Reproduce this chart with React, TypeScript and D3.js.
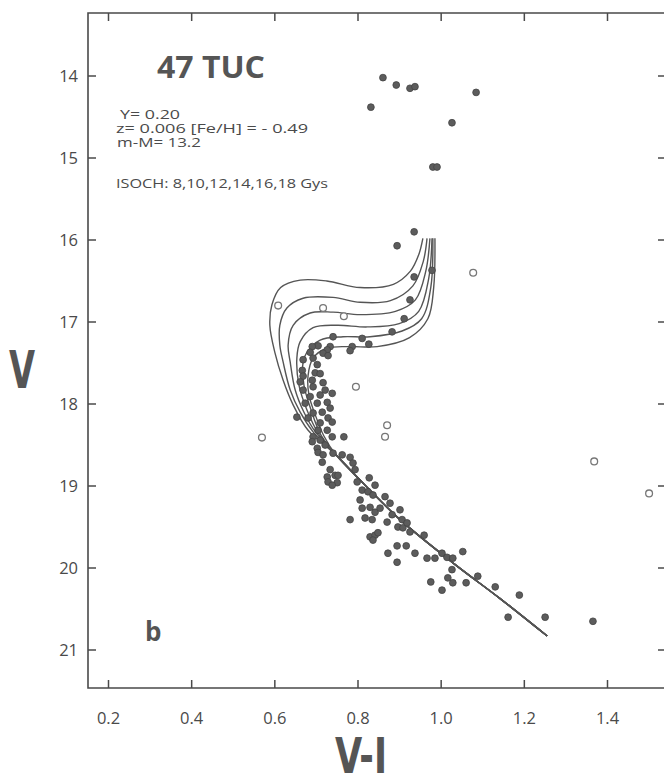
import React from "react";
import * as d3 from "d3";

// ---- data (V-I, V) ----
const xTicks = [0.2, 0.4, 0.6, 0.8, 1.0, 1.2, 1.4];
const xTickLabels = ["0.2", "0.4", "0.6", "0.8", "1.0", "1.2", "1.4"];
const yTicks = [14, 15, 16, 17, 18, 19, 20, 21];

const isoAges = [8, 10, 12, 14, 16, 18];

const iso8 = [
  [0.956, 15.98], [0.946, 16.18], [0.926, 16.38], [0.885, 16.54], [0.805, 16.58],
  [0.725, 16.50], [0.661, 16.49], [0.614, 16.58], [0.593, 16.79], [0.588, 17.04],
  [0.600, 17.37], [0.620, 17.71], [0.644, 18.01], [0.680, 18.32],
];
const iso10 = [
  [0.966, 15.98], [0.957, 16.26], [0.932, 16.56], [0.878, 16.74], [0.805, 16.76],
  [0.740, 16.70], [0.668, 16.71], [0.629, 16.83], [0.612, 17.04], [0.612, 17.28],
  [0.620, 17.49], [0.637, 17.83], [0.661, 18.10], [0.692, 18.34],
];
const iso12 = [
  [0.973, 15.98], [0.963, 16.38], [0.938, 16.73], [0.890, 16.87], [0.805, 16.91],
  [0.740, 16.88], [0.685, 16.89], [0.644, 17.04], [0.632, 17.28], [0.637, 17.49],
  [0.649, 17.83], [0.670, 18.10], [0.699, 18.35],
];
const iso14 = [
  [0.978, 15.98], [0.970, 16.47], [0.946, 16.87], [0.899, 17.02], [0.822, 17.06],
  [0.750, 17.04], [0.692, 17.07], [0.661, 17.24], [0.653, 17.44], [0.658, 17.77],
  [0.677, 18.07], [0.706, 18.37],
];
const iso16 = [
  [0.980, 15.98], [0.975, 16.58], [0.953, 16.96], [0.906, 17.11], [0.829, 17.18],
  [0.764, 17.18], [0.709, 17.22], [0.677, 17.37], [0.668, 17.49], [0.670, 17.77],
  [0.687, 18.07], [0.711, 18.38],
];
const iso18 = [
  [0.985, 15.98], [0.982, 16.58], [0.968, 16.96], [0.924, 17.19], [0.846, 17.30],
  [0.781, 17.30], [0.725, 17.32], [0.692, 17.44], [0.680, 17.65], [0.682, 17.89],
  [0.697, 18.13], [0.718, 18.39],
];
const mainSequence = [
  [0.747, 18.62], [0.817, 18.99], [0.901, 19.41], [1.029, 19.94], [1.141, 20.37], [1.255, 20.83],
];

const filledStars = [
  [0.860, 14.02], [0.892, 14.11], [0.925, 14.15], [0.937, 14.13], [0.831, 14.38],
  [1.084, 14.20], [1.026, 14.57], [0.980, 15.11], [0.990, 15.11], [0.935, 15.90],
  [0.894, 16.07], [0.978, 16.37], [0.935, 16.45], [0.925, 16.73], [0.911, 16.96],
  [0.882, 17.12], [0.826, 17.27], [0.810, 17.20], [0.786, 17.30], [0.781, 17.35],
  [0.740, 17.18], [0.733, 17.30], [0.726, 17.34], [0.716, 17.38], [0.728, 17.41],
  [0.704, 17.29], [0.690, 17.30], [0.685, 17.37], [0.692, 17.44], [0.668, 17.46],
  [0.666, 17.59], [0.668, 17.66], [0.702, 17.52], [0.697, 17.62], [0.709, 17.63],
  [0.661, 17.73], [0.690, 17.71], [0.692, 17.79], [0.716, 17.74], [0.721, 17.83],
  [0.738, 17.87], [0.709, 17.89], [0.685, 17.91], [0.668, 17.83], [0.673, 17.99],
  [0.702, 17.99], [0.726, 17.98], [0.733, 18.05], [0.714, 18.10], [0.692, 18.11],
  [0.680, 18.17], [0.728, 18.17], [0.709, 18.23], [0.738, 18.22], [0.653, 18.16],
  [0.704, 18.32], [0.726, 18.32], [0.692, 18.40], [0.709, 18.44], [0.721, 18.50],
  [0.690, 18.46], [0.766, 18.40], [0.738, 18.40], [0.702, 18.54], [0.704, 18.59],
  [0.740, 18.60], [0.762, 18.62], [0.781, 18.65], [0.716, 18.62], [0.714, 18.71],
  [0.788, 18.72], [0.793, 18.80], [0.726, 18.89], [0.733, 18.80], [0.745, 18.87],
  [0.728, 18.95], [0.750, 18.96], [0.738, 18.99], [0.752, 18.87], [0.827, 18.90],
  [0.841, 18.99], [0.798, 18.95], [0.810, 19.05], [0.824, 19.07], [0.836, 19.11],
  [0.865, 19.13], [0.877, 19.21], [0.805, 19.17], [0.810, 19.27], [0.829, 19.26],
  [0.841, 19.32], [0.853, 19.27], [0.901, 19.29], [0.882, 19.35], [0.817, 19.39],
  [0.834, 19.41], [0.781, 19.41], [0.870, 19.44], [0.906, 19.41], [0.896, 19.50],
  [0.908, 19.51], [0.918, 19.45], [0.925, 19.56], [0.959, 19.60], [0.829, 19.62],
  [0.841, 19.60], [0.848, 19.57], [0.836, 19.66], [0.894, 19.73], [0.916, 19.73],
  [0.872, 19.82], [0.894, 19.93], [0.937, 19.82], [0.966, 19.88], [0.985, 19.88],
  [1.002, 19.82], [1.014, 19.87], [1.028, 19.88], [1.052, 19.80], [1.026, 20.02],
  [1.088, 20.10], [0.975, 20.17], [1.016, 20.12], [1.028, 20.18], [1.060, 20.18],
  [1.002, 20.27], [1.130, 20.23], [1.188, 20.33], [1.161, 20.60], [1.250, 20.60],
  [1.365, 20.65],
];

const openStars = [
  [0.608, 16.80], [0.716, 16.83], [0.766, 16.93], [1.077, 16.40], [0.795, 17.79],
  [0.870, 18.26], [0.865, 18.40], [0.569, 18.41], [1.368, 18.70], [1.500, 19.09],
];

const titleText = "47 TUC";
const paramLines = ["Y= 0.20", "z= 0.006 [Fe/H] = - 0.49", "m-M= 13.2"];
const isochText = "ISOCH: 8,10,12,14,16,18  Gys";
const panelLabel = "b";

const INK = "#4a4a4a";

export default function App() {
  const x = d3.scaleLinear().domain([0.2, 1.4]).range([108.5, 607.5]);
  const y = d3.scaleLinear().domain([14, 21]).range([76, 650]);
  const frame = { left: 88, top: 13, bottom: 688, right: 666 };

  const line = d3
    .line<number[]>()
    .x((d) => x(d[0]))
    .y((d) => y(d[1]))
    .curve(d3.curveCatmullRom.alpha(0.5));

  const isos = [iso8, iso10, iso12, iso14, iso16, iso18];
  const paramX = [120, 116, 117];
  const paramW = [60, 192, 84];
  const paramY = [119, 133, 147];

  return (
    <svg
      width={664}
      height={780}
      style={{ position: "absolute", left: 0, top: 0, background: "#fff" }}
      fontFamily="'Open Sans', 'DejaVu Sans', sans-serif"
    >
      <rect width={664} height={780} fill="#fff" />
      {/* frame */}
      <path
        d={`M${frame.right},${frame.top}H${frame.left}V${frame.bottom}H${frame.right}`}
        fill="none"
        stroke={INK}
        strokeWidth={1.6}
      />
      {/* ticks */}
      {xTicks.map((t) => (
        <g key={"xt" + t}>
          <line x1={x(t)} x2={x(t)} y1={frame.bottom} y2={frame.bottom - 8} stroke={INK} strokeWidth={1.5} />
          <line x1={x(t)} x2={x(t)} y1={frame.top} y2={frame.top + 8} stroke={INK} strokeWidth={1.5} />
        </g>
      ))}
      {yTicks.map((t) => (
        <g key={"yt" + t}>
          <line x1={frame.left} x2={frame.left + 8} y1={y(t)} y2={y(t)} stroke={INK} strokeWidth={1.5} />
          <line x1={frame.right - 8} x2={frame.right} y1={y(t)} y2={y(t)} stroke={INK} strokeWidth={1.5} />
        </g>
      ))}
      {xTicks.map((t, i) => (
        <text key={"xl" + t} x={x(t)} y={724} textAnchor="middle" fontSize={16.5} fill={INK}>
          {xTickLabels[i]}
        </text>
      ))}
      {yTicks.map((t) => (
        <text key={"yl" + t} x={78} y={y(t) + 6} textAnchor="end" fontSize={16.5} fill={INK}>
          {t}
        </text>
      ))}
      {/* axis titles */}
      <text
        x={22}
        y={388}
        textAnchor="middle"
        fontSize={52}
        fontWeight="bold"
        fontFamily="'DejaVu Sans Condensed', 'DejaVu Sans', sans-serif"
        fill="#555"
        transform="translate(22,388) scale(0.72,1) translate(-22,-388)"
      >
        V
      </text>
      <text
        x={361}
        y={773}
        textAnchor="middle"
        fontSize={50}
        fontWeight="bold"
        fontFamily="'DejaVu Sans Condensed', 'DejaVu Sans', sans-serif"
        fill="#555"
        textLength={52}
        lengthAdjust="spacingAndGlyphs"
      >
        V-I
      </text>
      {/* annotations */}
      <text x={157} y={78} fontSize={30} fontWeight="bold" fill="#555" textLength={108} lengthAdjust="spacingAndGlyphs">
        {titleText}
      </text>
      {paramLines.map((s, i) => (
        <text
          key={s}
          x={paramX[i]}
          y={paramY[i]}
          fontSize={12.5}
          fill={INK}
          textLength={paramW[i]}
          lengthAdjust="spacingAndGlyphs"
        >
          {s}
        </text>
      ))}
      <text x={116} y={188} fontSize={13} fill={INK} textLength={212} lengthAdjust="spacingAndGlyphs">
        {isochText}
      </text>
      <text x={145} y={641} fontSize={26} fontWeight="bold" fill="#555">
        {panelLabel}
      </text>
      {/* isochrones */}
      {isos.map((pts, i) => (
        <path
          key={"iso" + isoAges[i]}
          d={line([...pts, ...mainSequence]) || ""}
          fill="none"
          stroke="#555"
          strokeWidth={1.4}
        />
      ))}
      {/* stars */}
      {filledStars.map((d, i) => (
        <circle key={"f" + i} cx={x(d[0])} cy={y(d[1])} r={3.4} fill="#5c5c5c" stroke="#444" strokeWidth={0.8} />
      ))}
      {openStars.map((d, i) => (
        <circle key={"o" + i} cx={x(d[0])} cy={y(d[1])} r={3.4} fill="#fff" stroke="#777" strokeWidth={1.3} />
      ))}
    </svg>
  );
}
